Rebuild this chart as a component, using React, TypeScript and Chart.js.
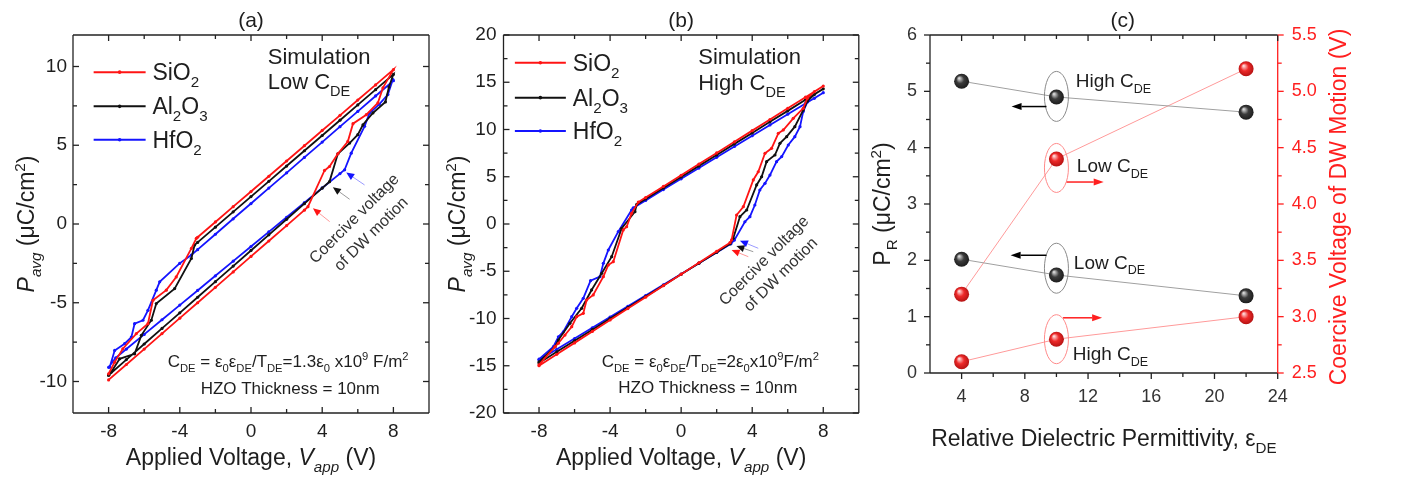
import React, { useEffect, useRef } from 'react';
import { Chart, registerables } from 'chart.js';

Chart.register(...registerables);

const FONT = "'Liberation Sans', Arial, Helvetica, sans-serif";
const TXT = '#1e1e1e';

// ---------- Panel (a): Low C_DE loops  [V, P] ----------
const A_SIO2 = [
  [-8, -9.9], [-7, -8.92], [-6, -7.94], [-5, -6.96], [-4, -5.98], [-3, -5.0], [-2, -4.02], [-1, -3.04], [0, -2.06], [1, -1.08], [2, -0.1], [3, 0.88], [3.2, 1.1],
  [4.13, 3.4], [4.41, 3.65], [4.88, 4.46], [5.44, 5.24], [5.73, 6.37], [6.48, 6.94], [7.13, 7.69], [7.41, 8.64], [8, 9.8],
  [7, 8.83], [6, 7.87], [5, 6.9], [4, 5.94], [3, 4.97], [2, 4.0], [1, 3.03], [0, 2.06], [-1, 1.1], [-2, 0.13], [-3, -0.84], [-3.07, -0.91],
  [-3.35, -1.55], [-4.2, -3.36], [-4.76, -4.2], [-5.51, -4.84], [-5.79, -6.33], [-6.44, -6.96], [-7.2, -7.92], [-7.66, -8.77], [-8, -9.51],
];
const A_AL2O3 = [
  [-8, -9.6], [-7, -8.61], [-6, -7.62], [-5, -6.63], [-4, -5.64], [-3, -4.65], [-2, -3.66], [-1, -2.67], [0, -1.68], [1, -0.69], [2, 0.3], [3, 1.29], [4, 2.28], [4.41, 2.69],
  [4.88, 4.46], [5.54, 5.14], [6.0, 5.67], [6.29, 6.3], [6.85, 7.05], [7.55, 7.75], [7.75, 8.7], [8, 9.5],
  [7, 8.53], [6, 7.56], [5, 6.59], [4, 5.62], [3, 4.65], [2, 3.68], [1, 2.71], [0, 1.74], [-1, 0.77], [-2, -0.2], [-3, -1.17], [-3.17, -1.34],
  [-3.35, -2.19], [-4.29, -4.1], [-5.32, -5.05], [-5.6, -6.11], [-6.16, -7.07], [-6.54, -8.24], [-7.38, -8.56], [-7.85, -9.4], [-8, -9.6],
];
const A_HFO2 = [
  [-8, -9.1], [-7.6, -8.5], [-7, -7.94], [-6, -7.01], [-5, -6.08], [-4, -5.15], [-3, -4.22], [-2, -3.29], [-1, -2.36], [0, -1.43], [1, -0.5], [2, 0.43], [3, 1.36], [4, 2.29], [5, 3.2], [5.26, 3.44],
  [5.63, 4.5], [6.38, 6.2], [6.66, 7.05], [7.2, 7.6], [7.69, 8.22], [7.97, 9.17], [8, 9.1],
  [7, 8.13], [6, 7.15], [5, 6.18], [4, 5.2], [3, 4.23], [2, 3.25], [1, 2.28], [0, 1.3], [-1, 0.33], [-2, -0.65], [-3, -1.63], [-3.35, -1.97],
  [-4.01, -2.5], [-5.13, -3.67], [-5.32, -4.2], [-5.79, -5.48], [-6.07, -6.11], [-6.54, -6.33], [-6.72, -7.18], [-7.1, -7.6], [-7.66, -8.03], [-7.94, -9.09],
];

// ---------- Panel (b): High C_DE loops ----------
const B_SIO2 = [
  [-8, -15], [-7, -13.79], [-6, -12.58], [-5, -11.37], [-4, -10.16], [-3, -8.95], [-2, -7.74], [-1, -6.53], [0, -5.31], [1, -4.1], [2, -2.89], [2.75, -1.98],
  [2.84, -1.69], [3.12, 0.95], [3.5, 1.83], [4.06, 4.66], [4.34, 5.53], [4.72, 7.48], [5.09, 8.01], [5.47, 9.6], [5.75, 9.95], [6.31, 11.18], [6.87, 12.24], [7.1, 13.3], [7.5, 14.0], [8, 14.6],
  [7, 13.42], [6, 12.24], [5, 11.06], [4, 9.88], [3, 8.7], [2, 7.52], [1, 6.34], [0, 5.16], [-1, 3.98], [-2, 2.8], [-2.41, 2.32],
  [-2.79, 1.13], [-3.07, -0.29], [-3.26, -0.63], [-3.82, -3.99], [-4.1, -4.34], [-4.38, -5.57], [-4.95, -7.51], [-5.32, -8.04], [-5.51, -9.45], [-5.88, -9.81], [-6.16, -10.87], [-6.54, -11.75], [-6.91, -12.62], [-7.1, -12.98], [-8, -14.9],
];
const B_AL2O3 = [
  [-8, -14.7], [-7, -13.53], [-6, -12.36], [-5, -11.18], [-4, -10.01], [-3, -8.84], [-2, -7.67], [-1, -6.5], [0, -5.32], [1, -4.15], [2, -2.98], [2.75, -2.1],
  [2.93, -1.52], [3.31, 0.78], [3.69, 1.48], [4.25, 4.13], [4.53, 5.0], [4.81, 6.6], [5.28, 7.3], [5.56, 8.54], [5.94, 9.24], [6.4, 10.3], [6.87, 12.06], [7.1, 13.0], [7.5, 13.7], [8, 14.3],
  [7, 13.14], [6, 11.97], [5, 10.81], [4, 9.64], [3, 8.48], [2, 7.31], [1, 6.15], [0, 4.98], [-1, 3.82], [-2, 2.65], [-2.5, 2.07],
  [-2.6, 1.3], [-3.35, -0.46], [-3.91, -3.46], [-4.47, -5.22], [-5.04, -6.98], [-5.6, -8.92], [-6.26, -10.51], [-6.91, -12.28], [-7.1, -12.98], [-8, -14.6],
];
const B_HFO2 = [
  [-8, -14.4], [-7, -13.26], [-6, -12.12], [-5, -10.98], [-4, -9.85], [-3, -8.71], [-2, -7.57], [-1, -6.43], [0, -5.29], [1, -4.15], [2, -3.01], [2.8, -2.1],
  [3.0, -1.7], [3.59, 0.24], [3.87, 0.78], [4.15, 2.01], [4.43, 3.6], [4.72, 4.3], [5.0, 5.18], [5.37, 6.6], [5.66, 7.13], [6.03, 8.36], [6.4, 9.24], [6.69, 10.3], [6.87, 11.9], [7.1, 12.9], [7.5, 13.3], [8, 13.9],
  [7, 12.76], [6, 11.62], [5, 10.48], [4, 9.34], [3, 8.2], [2, 7.06], [1, 5.92], [0, 4.78], [-1, 3.64], [-2, 2.5], [-2.7, 1.7],
  [-2.79, 1.48], [-3.54, -0.81], [-4.1, -2.75], [-4.38, -4.16], [-4.57, -5.57], [-5.1, -6.0], [-5.51, -7.86], [-5.88, -8.92], [-6.16, -9.81], [-6.63, -11.4], [-6.91, -11.93], [-7.19, -12.98], [-8, -14.3],
];

const LOOP_SERIES = ['SiO_{2}', 'Al_{2}O_{3}', 'HfO_{2}'];
const LOOP_COLORS = ['#ff1414', '#111111', '#1414ff'];
const LOOP_SHAFT = ['#ff9a9a', '#9a9a9a', '#9a9aff'];

const LOOP_X_MAJOR = [-8, -4, 0, 4, 8];
const LOOP_X_MINOR = [-6, -2, 2, 6];
const A_Y_MAJOR = [-10, -5, 0, 5, 10];
const A_Y_MINOR = [-7.5, -2.5, 2.5, 7.5];
const B_Y_MAJOR = [-20, -15, -10, -5, 0, 5, 10, 15, 20];
const B_Y_MINOR = [-17.5, -12.5, -7.5, -2.5, 2.5, 7.5, 12.5, 17.5];

// ---------- Panel (c) ----------
const EPS_DE = [4, 10, 22];
const PR_HIGH = [5.18, 4.9, 4.63];
const PR_LOW = [2.02, 1.74, 1.37];
const VC_LOW = [3.2, 4.4, 5.2];
const VC_HIGH = [2.6, 2.8, 3.0];
const C_X_MAJOR = [4, 8, 12, 16, 20, 24];
const C_X_MINOR = [6, 10, 14, 18, 22];
const C_Y_MAJOR = [0, 1, 2, 3, 4, 5, 6];
const C_Y_MINOR = [0.5, 1.5, 2.5, 3.5, 4.5, 5.5];
const C_Y2_MAJOR = [2.5, 3, 3.5, 4, 4.5, 5, 5.5];
const C_Y2_MINOR = [2.75, 3.25, 3.75, 4.25, 4.75, 5.25];

// ---------- rich text helpers ----------
type Seg = { t: string; sub?: boolean; sup?: boolean; it?: boolean };
function parseRich(s: string): Seg[] {
  const out: Seg[] = [];
  let i = 0, it = false, buf = '';
  const flush = () => { if (buf) { out.push({ t: buf, it }); buf = ''; } };
  while (i < s.length) {
    const c = s[i];
    if ((c === '_' || c === '^') && s[i + 1] === '{') {
      flush();
      const j = s.indexOf('}', i);
      out.push({ t: s.slice(i + 2, j), sub: c === '_', sup: c === '^', it });
      i = j + 1;
      continue;
    }
    if (c === '*') { flush(); it = !it; i++; continue; }
    buf += c; i++;
  }
  flush();
  return out;
}
function segFont(s: Seg, size: number) {
  const sz = s.sub || s.sup ? size * 0.66 : size;
  return `${s.it ? 'italic ' : ''}${sz}px ${FONT}`;
}
function drawRich(ctx: CanvasRenderingContext2D, text: string, x: number, y: number, size: number, color: string, align = 'left') {
  const segs = parseRich(text);
  ctx.save();
  let w = 0;
  for (const s of segs) { ctx.font = segFont(s, size); w += ctx.measureText(s.t).width; }
  let cx = align === 'center' ? x - w / 2 : align === 'right' ? x - w : x;
  ctx.fillStyle = color;
  ctx.textAlign = 'left';
  ctx.textBaseline = 'alphabetic';
  for (const s of segs) {
    ctx.font = segFont(s, size);
    const dy = s.sub ? size * 0.3 : s.sup ? -size * 0.4 : 0;
    ctx.fillText(s.t, cx, y + dy);
    cx += ctx.measureText(s.t).width;
  }
  ctx.restore();
}
function drawRichRot(ctx: CanvasRenderingContext2D, text: string, x: number, y: number, size: number, color: string, angle: number) {
  ctx.save();
  ctx.translate(x, y);
  ctx.rotate(angle);
  drawRich(ctx, text, 0, size * 0.36, size, color, 'center');
  ctx.restore();
}
function arrow(ctx: CanvasRenderingContext2D, x1: number, y1: number, x2: number, y2: number, shaft: string, head: string, lw = 1.2, hl = 9, hw = 3.5) {
  const ang = Math.atan2(y2 - y1, x2 - x1);
  const bx = x2 - Math.cos(ang) * hl, by = y2 - Math.sin(ang) * hl;
  ctx.save();
  ctx.strokeStyle = shaft; ctx.lineWidth = lw;
  ctx.beginPath(); ctx.moveTo(x1, y1); ctx.lineTo(bx, by); ctx.stroke();
  ctx.fillStyle = head;
  ctx.beginPath();
  ctx.moveTo(x2, y2);
  ctx.lineTo(bx + Math.sin(ang) * hw, by - Math.cos(ang) * hw);
  ctx.lineTo(bx - Math.sin(ang) * hw, by + Math.cos(ang) * hw);
  ctx.closePath(); ctx.fill();
  ctx.restore();
}
function ellipse(ctx: CanvasRenderingContext2D, x: number, y: number, rx: number, ry: number, color: string) {
  ctx.save();
  ctx.strokeStyle = color; ctx.lineWidth = 1;
  ctx.beginPath(); ctx.ellipse(x, y, rx, ry, 0, 0, Math.PI * 2); ctx.stroke();
  ctx.restore();
}

const sx = (ch: any, v: number) => ch.scales.x.getPixelForValue(v);
const sy = (ch: any, v: number, id = 'y') => ch.scales[id].getPixelForValue(v);

type Side = { id: string; side: string; inward: boolean; major: number[]; color: string };
function drawFrame(ch: any, sides: Side[], edges: any) {
  const ctx: CanvasRenderingContext2D = ch.ctx;
  const a = ch.chartArea;
  ctx.save();
  ctx.lineWidth = 1.3;
  const seg = (c: string, x1: number, y1: number, x2: number, y2: number) => {
    ctx.strokeStyle = c; ctx.beginPath(); ctx.moveTo(x1, y1); ctx.lineTo(x2, y2); ctx.stroke();
  };
  seg(edges.top, a.left, a.top, a.right, a.top);
  seg(edges.bottom, a.left, a.bottom, a.right, a.bottom);
  seg(edges.left, a.left, a.top, a.left, a.bottom);
  seg(edges.right, a.right, a.top, a.right, a.bottom);
  for (const s of sides) {
    const sc = ch.scales[s.id];
    const d = s.inward ? 1 : -1;
    for (const t of sc.ticks) {
      const v = t.value;
      const len = s.major.includes(v) ? 6 : 4;
      const p = sc.getPixelForValue(v);
      if (s.side === 'left') seg(s.color, a.left, p, a.left + d * len, p);
      if (s.side === 'right') seg(s.color, a.right, p, a.right - d * len, p);
      if (s.side === 'bottom') seg(s.color, p, a.bottom, p, a.bottom - d * len);
      if (s.side === 'top') seg(s.color, p, a.top, p, a.top + d * len);
    }
  }
  ctx.restore();
}

function tickScale(min: number, max: number, major: number[], minor: number[], extra: any) {
  const fmt = extra.fmt || ((v: number) => String(v));
  return {
    type: 'linear',
    position: extra.position,
    min, max,
    afterBuildTicks: (s: any) => {
      s.ticks = [...major, ...minor].sort((p, q) => p - q).map((v) => ({ value: v }));
    },
    afterFit: (s: any) => {
      if (extra.width !== undefined) s.width = extra.width;
      if (extra.height !== undefined) s.height = extra.height;
    },
    ticks: {
      autoSkip: false, maxRotation: 0, minRotation: 0,
      padding: extra.padding,
      color: extra.color || TXT,
      font: { family: FONT, size: extra.size },
      callback: (v: any) => (major.includes(Number(v)) ? fmt(Number(v)) : ''),
    },
    grid: { display: false, drawTicks: false },
    border: { display: false },
  };
}

function loopConfig(series: number[][][], yMin: number, yMax: number, yMajor: number[], yMinor: number[], yWidth: number, padRight: number, yPad: number, extras: (ch: any, ctx: CanvasRenderingContext2D) => void) {
  return {
    type: 'line',
    data: {
      datasets: series.map((s, i) => ({
        label: LOOP_SERIES[i],
        data: s.map(([x, y]) => ({ x, y })),
        borderColor: LOOP_COLORS[i],
        backgroundColor: LOOP_COLORS[i],
        borderWidth: 1.8,
        pointRadius: 1.6,
        pointBorderWidth: 0,
        pointHoverRadius: 0,
        tension: 0,
        fill: false,
      })),
    },
    options: {
      responsive: false,
      animation: false,
      events: [],
      layout: { padding: { left: 0, top: 35, right: padRight, bottom: 0 } },
      plugins: { legend: { display: false }, tooltip: { enabled: false }, title: { display: false } },
      scales: {
        x: tickScale(-10, 10, LOOP_X_MAJOR, LOOP_X_MINOR, { position: 'bottom', height: 65, padding: 7, size: 19 }),
        y: tickScale(yMin, yMax, yMajor, yMinor, { position: 'left', width: yWidth, padding: yPad, size: 19 }),
      },
    },
    plugins: [{
      id: 'deco',
      afterDraw(ch: any) {
        drawFrame(ch, [
          { id: 'x', side: 'bottom', inward: true, major: LOOP_X_MAJOR, color: '#222' },
          { id: 'x', side: 'top', inward: true, major: LOOP_X_MAJOR, color: '#222' },
          { id: 'y', side: 'left', inward: true, major: yMajor, color: '#222' },
          { id: 'y', side: 'right', inward: true, major: yMajor, color: '#222' },
        ], { top: '#222', bottom: '#222', left: '#222', right: '#222' });
        extras(ch, ch.ctx);
      },
    }],
  };
}

function loopLegend(ch: any, ctx: CanvasRenderingContext2D, x1: number, x2: number, xt: number, ys: number[]) {
  LOOP_SERIES.forEach((name, i) => {
    const X1 = sx(ch, x1), X2 = sx(ch, x2), Y = sy(ch, ys[i]);
    ctx.save();
    ctx.strokeStyle = LOOP_COLORS[i]; ctx.lineWidth = 2;
    ctx.beginPath(); ctx.moveTo(X1, Y); ctx.lineTo(X2, Y); ctx.stroke();
    ctx.fillStyle = LOOP_COLORS[i];
    ctx.beginPath(); ctx.arc((X1 + X2) / 2, Y, 1.8, 0, Math.PI * 2); ctx.fill();
    ctx.restore();
    drawRich(ctx, name, sx(ch, xt), Y + 8, 23, TXT);
  });
}

function commonLoopText(ch: any, ctx: CanvasRenderingContext2D, label: string) {
  const a = ch.chartArea;
  drawRich(ctx, label, (a.left + a.right) / 2, a.top - 8, 21, TXT, 'center');
  drawRichRot(ctx, '*P_{avg}* (μC/cm^{2})', a.left - 47, (a.top + a.bottom) / 2, 23, TXT, -Math.PI / 2);
  drawRich(ctx, 'Applied Voltage, *V_{app}* (V)', (a.left + a.right) / 2, a.bottom + 52, 23, TXT, 'center');
}

function configA() {
  return loopConfig([A_SIO2, A_AL2O3, A_HFO2], -12, 12, A_Y_MAJOR, A_Y_MINOR, 73, 11, 6, (ch, ctx) => {
    commonLoopText(ch, ctx, '(a)');
    loopLegend(ch, ctx, -8.84, -5.92, -5.54, [9.64, 7.47, 5.35]);
    drawRich(ctx, 'Simulation', sx(ch, 0.94), sy(ch, 10.19), 22, TXT);
    drawRich(ctx, 'Low C_{DE}', sx(ch, 0.94), sy(ch, 8.54), 22, TXT);
    drawRich(ctx, 'C_{DE} = ε_{0}ε_{DE}/T_{DE}=1.3ε_{0} x10^{9} F/m^{2}', sx(ch, -4.68), sy(ch, -9.09), 17, TXT);
    drawRich(ctx, 'HZO Thickness = 10nm', sx(ch, -2.83), sy(ch, -10.78), 17, TXT);
    drawRichRot(ctx, 'Coercive voltage', sx(ch, 5.76), sy(ch, 0.38), 16, '#333', -Math.PI / 4);
    drawRichRot(ctx, 'of DW motion', sx(ch, 6.71), sy(ch, -0.59), 16, '#333', -Math.PI / 4);
    const arr = [[4.42, 0.15, 3.48, 1.0], [5.54, 1.57, 4.6, 2.34], [6.38, 2.48, 5.35, 3.27]];
    arr.forEach((p, i) => arrow(ctx, sx(ch, p[0]), sy(ch, p[1]), sx(ch, p[2]), sy(ch, p[3]), LOOP_SHAFT[i], LOOP_COLORS[i], 1, 8, 3.5));
  });
}

function configB() {
  return loopConfig([B_SIO2, B_AL2O3, B_HFO2], -20, 20, B_Y_MAJOR, B_Y_MINOR, 63.5, 5.2, 7, (ch, ctx) => {
    commonLoopText(ch, ctx, '(b)');
    loopLegend(ch, ctx, -9.36, -6.49, -6.1, [17.07, 13.37, 9.84]);
    drawRich(ctx, 'Simulation', sx(ch, 0.96), sy(ch, 16.93), 22, TXT);
    drawRich(ctx, 'High C_{DE}', sx(ch, 0.96), sy(ch, 14.18), 22, TXT);
    drawRich(ctx, 'C_{DE} = ε_{0}ε_{DE}/T_{DE}=2ε_{0}x10^{9}F/m^{2}', sx(ch, -4.47), sy(ch, -15.1), 17, TXT);
    drawRich(ctx, 'HZO Thickness = 10nm', sx(ch, -3.54), sy(ch, -17.9), 17, TXT);
    drawRichRot(ctx, 'Coercive voltage', sx(ch, 4.62), sy(ch, -3.81), 16, '#333', -Math.PI / 4);
    drawRichRot(ctx, 'of DW motion', sx(ch, 5.56), sy(ch, -5.29), 16, '#333', -Math.PI / 4);
    const arr = [[3.78, -3.46, 2.84, -2.75], [4.06, -2.93, 3.11, -2.33], [4.34, -2.57, 3.31, -1.77]];
    arr.forEach((p, i) => arrow(ctx, sx(ch, p[0]), sy(ch, p[1]), sx(ch, p[2]), sy(ch, p[3]), LOOP_SHAFT[i], LOOP_COLORS[i], 1, 8, 3.5));
  });
}

const sphere = (base: string, hi: string, edge: string) => (c: any) => {
  if (c.type !== 'data' || !c.parsed) return base;
  const ch = c.chart;
  const ys = ch.scales[c.dataset.yAxisID];
  if (!ch.scales.x || !ys) return base;
  const x = ch.scales.x.getPixelForValue(c.parsed.x);
  const y = ys.getPixelForValue(c.parsed.y);
  if (!isFinite(x) || !isFinite(y)) return base;
  const g = ch.ctx.createRadialGradient(x - 2.5, y - 3, 0.5, x, y, 8);
  g.addColorStop(0, hi);
  g.addColorStop(0.45, base);
  g.addColorStop(1, edge);
  return g;
};

function configC() {
  const ds = (vals: number[], axis: string, line: string, base: string, hi: string, edge: string) => ({
    data: EPS_DE.map((x, i) => ({ x, y: vals[i] })),
    yAxisID: axis,
    borderColor: line,
    borderWidth: 1,
    pointRadius: 7.5,
    pointHoverRadius: 0,
    pointBorderWidth: 0,
    pointBackgroundColor: sphere(base, hi, edge),
    backgroundColor: base,
    tension: 0,
    fill: false,
  });
  return {
    type: 'line',
    data: {
      datasets: [
        ds(PR_HIGH, 'y', '#a0a0a0', '#3c3c3c', '#d8d8d8', '#1a1a1a'),
        ds(PR_LOW, 'y', '#a0a0a0', '#3c3c3c', '#d8d8d8', '#1a1a1a'),
        ds(VC_LOW, 'y2', '#ff9a9a', '#ee2a2a', '#ffd8d8', '#b01010'),
        ds(VC_HIGH, 'y2', '#ff9a9a', '#ee2a2a', '#ffd8d8', '#b01010'),
      ],
    },
    options: {
      responsive: false,
      animation: false,
      events: [],
      layout: { padding: { left: 0, top: 35, right: 54.3, bottom: 0 } },
      plugins: { legend: { display: false }, tooltip: { enabled: false }, title: { display: false } },
      scales: {
        x: tickScale(2, 24, C_X_MAJOR, C_X_MINOR, { position: 'bottom', height: 105, padding: 13, size: 18, color: '#333' }),
        y: tickScale(0, 6, C_Y_MAJOR, C_Y_MINOR, { position: 'left', width: 66, padding: 13, size: 18, color: '#333' }),
        y2: tickScale(2.5, 5.5, C_Y2_MAJOR, C_Y2_MINOR, { position: 'right', width: 80, padding: 14, size: 18, color: '#ff1f1f', fmt: (v: number) => v.toFixed(1) }),
      },
    },
    plugins: [{
      id: 'decoC',
      afterDraw(ch: any) {
        const ctx: CanvasRenderingContext2D = ch.ctx;
        const a = ch.chartArea;
        drawFrame(ch, [
          { id: 'x', side: 'bottom', inward: false, major: C_X_MAJOR, color: '#222' },
          { id: 'x', side: 'top', inward: true, major: C_X_MAJOR, color: '#222' },
          { id: 'y', side: 'left', inward: false, major: C_Y_MAJOR, color: '#222' },
          { id: 'y2', side: 'right', inward: false, major: C_Y2_MAJOR, color: '#ff1f1f' },
        ], { top: '#222', bottom: '#222', left: '#222', right: '#ff1f1f' });
        drawRich(ctx, '(c)', (a.left + a.right) / 2 + 19, a.top - 8, 21, TXT, 'center');
        drawRichRot(ctx, 'P_{R} (μC/cm^{2})', a.left - 48, (a.top + a.bottom) / 2, 23, TXT, -Math.PI / 2);
        drawRichRot(ctx, 'Coercive Voltage of DW Motion (V)', a.right + 60, (a.top + a.bottom) / 2 + 3, 23, '#ff1f1f', -Math.PI / 2);
        drawRich(ctx, 'Relative Dielectric Permittivity, ε_{DE}', (a.left + a.right) / 2, a.bottom + 73, 23, TXT, 'center');

        ellipse(ctx, sx(ch, 10), sy(ch, 4.91), 12, 25, '#8a8a8a');
        arrow(ctx, sx(ch, 9.37), sy(ch, 4.73), sx(ch, 7.16), sy(ch, 4.73), '#000', '#000', 1.5, 10, 3.5);
        drawRich(ctx, 'High C_{DE}', sx(ch, 11.22), sy(ch, 5.08), 19, TXT);

        ellipse(ctx, sx(ch, 10), sy(ch, 3.64), 12, 24.5, '#ff8a8a');
        arrow(ctx, sx(ch, 10.64), sy(ch, 3.39), sx(ch, 12.99), sy(ch, 3.39), '#ff1f1f', '#ff1f1f', 1.5, 10, 3.5);
        drawRich(ctx, 'Low C_{DE}', sx(ch, 11.29), sy(ch, 3.57), 19, TXT);

        ellipse(ctx, sx(ch, 10), sy(ch, 1.86), 12, 25, '#8a8a8a');
        arrow(ctx, sx(ch, 9.37), sy(ch, 2.09), sx(ch, 7.1), sy(ch, 2.09), '#000', '#000', 1.5, 10, 3.5);
        drawRich(ctx, 'Low C_{DE}', sx(ch, 11.1), sy(ch, 1.85), 19, TXT);

        ellipse(ctx, sx(ch, 10), sy(ch, 0.6), 12, 24.5, '#ff8a8a');
        arrow(ctx, sx(ch, 10.42), sy(ch, 0.98), sx(ch, 12.89), sy(ch, 0.98), '#ff1f1f', '#ff1f1f', 1.5, 10, 3.5);
        drawRich(ctx, 'High C_{DE}', sx(ch, 11.03), sy(ch, 0.23), 19, TXT);
      },
    }],
  };
}

export default function App() {
  const ra = useRef<HTMLCanvasElement>(null);
  const rb = useRef<HTMLCanvasElement>(null);
  const rc = useRef<HTMLCanvasElement>(null);
  useEffect(() => {
    const charts = [
      new Chart(ra.current as any, configA() as any),
      new Chart(rb.current as any, configB() as any),
      new Chart(rc.current as any, configC() as any),
    ];
    return () => charts.forEach((c) => c.destroy());
  }, []);
  const cs = (left: number, w: number) => ({ position: 'absolute' as const, left, top: 0, width: w, height: 478 });
  return (
    <div style={{ position: 'fixed', left: 0, top: 0, width: 1412, height: 478, background: '#fff', overflow: 'hidden' }}>
      <canvas ref={ra} width={440} height={478} style={cs(0, 440)} />
      <canvas ref={rb} width={424} height={478} style={cs(440, 424)} />
      <canvas ref={rc} width={548} height={478} style={cs(864, 548)} />
    </div>
  );
}
